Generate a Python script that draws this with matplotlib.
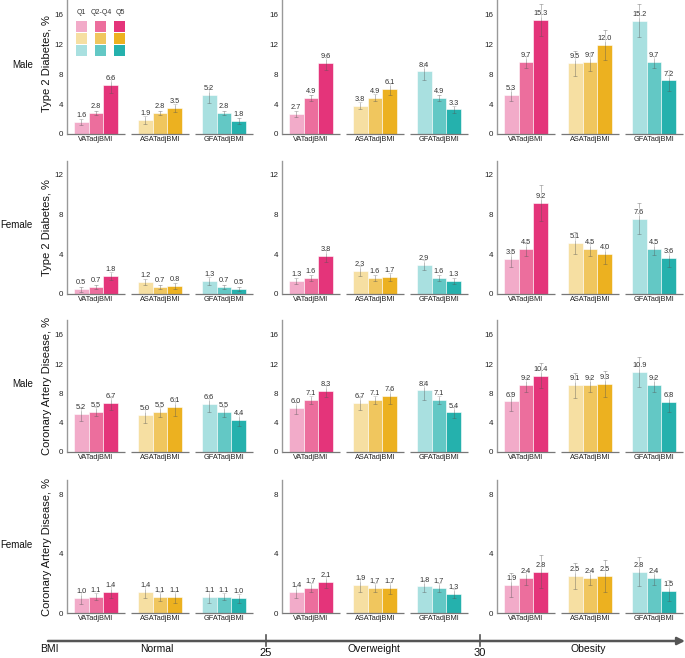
import numpy as np
import matplotlib.pyplot as plt
from matplotlib.patches import Rectangle

plt.rcParams['font.family'] = ['Liberation Sans', 'DejaVu Sans']

bmi_groups = ['Normal', 'Overweight', 'Obesity']
bmi_cuts = ['25', '30']
fat_traits = ['VATadjBMI', 'ASATadjBMI', 'GFATadjBMI']
quintiles = ['Q1', 'Q2-Q4', 'Q5']
sexes = ['Male', 'Female', 'Male', 'Female']
outcomes = ['Type 2 Diabetes, %', 'Type 2 Diabetes, %',
            'Coronary Artery Disease, %', 'Coronary Artery Disease, %']

# prevalence (%) : [bmi group][trait][Q1, Q2-Q4, Q5]
t2d_male = [
    [[1.6, 2.8, 6.6], [1.9, 2.8, 3.5], [5.2, 2.8, 1.8]],
    [[2.7, 4.9, 9.6], [3.8, 4.9, 6.1], [8.4, 4.9, 3.3]],
    [[5.3, 9.7, 15.3], [9.5, 9.7, 12.0], [15.2, 9.7, 7.2]],
]
t2d_male_err = [
    [[0.4, 0.3, 1.1], [0.5, 0.3, 0.5], [1.1, 0.3, 0.4]],
    [[0.4, 0.4, 1.0], [0.5, 0.5, 0.8], [1.2, 0.4, 0.5]],
    [[0.8, 0.8, 2.2], [1.7, 1.2, 2.0], [2.2, 0.8, 1.4]],
]
t2d_female = [
    [[0.5, 0.7, 1.8], [1.2, 0.7, 0.8], [1.3, 0.7, 0.5]],
    [[1.3, 1.6, 3.8], [2.3, 1.6, 1.7], [2.9, 1.6, 1.3]],
    [[3.5, 4.5, 9.2], [5.1, 4.5, 4.0], [7.6, 4.5, 3.6]],
]
t2d_female_err = [
    [[0.25, 0.2, 0.4], [0.3, 0.2, 0.3], [0.4, 0.2, 0.2]],
    [[0.3, 0.3, 0.6], [0.5, 0.3, 0.4], [0.5, 0.3, 0.3]],
    [[0.8, 0.7, 1.8], [1.1, 0.7, 1.0], [1.6, 0.6, 0.9]],
]
cad_male = [
    [[5.2, 5.5, 6.7], [5.0, 5.5, 6.1], [6.6, 5.5, 4.4]],
    [[6.0, 7.1, 8.3], [6.7, 7.1, 7.6], [8.4, 7.1, 5.4]],
    [[6.9, 9.2, 10.4], [9.1, 9.2, 9.3], [10.9, 9.2, 6.8]],
]
cad_male_err = [
    [[1.0, 0.6, 1.0], [1.1, 0.7, 1.2], [1.2, 0.7, 0.8]],
    [[0.8, 0.5, 0.8], [1.0, 0.6, 1.0], [1.3, 0.6, 0.7]],
    [[1.3, 1.0, 1.7], [1.7, 1.0, 1.8], [2.0, 1.0, 1.4]],
]
cad_female = [
    [[1.0, 1.1, 1.4], [1.4, 1.1, 1.1], [1.1, 1.1, 1.0]],
    [[1.4, 1.7, 2.1], [1.9, 1.7, 1.7], [1.8, 1.7, 1.3]],
    [[1.9, 2.4, 2.8], [2.5, 2.4, 2.5], [2.8, 2.4, 1.5]],
]
cad_female_err = [
    [[0.4, 0.25, 0.4], [0.4, 0.3, 0.4], [0.4, 0.25, 0.3]],
    [[0.4, 0.3, 0.4], [0.5, 0.3, 0.4], [0.4, 0.3, 0.3]],
    [[0.8, 0.5, 1.1], [0.9, 0.5, 1.1], [1.0, 0.5, 0.7]],
]

row_values = [t2d_male, t2d_female, cad_male, cad_female]
row_errors = [t2d_male_err, t2d_female_err, cad_male_err, cad_female_err]
row_ylim = [18, 13.4, 18, 9]
row_yticks = [[0, 4, 8, 12, 16], [0, 4, 8, 12], [0, 4, 8, 12, 16], [0, 4, 8]]

trait_colors = [['#F2ABC9', '#EC6E9D', '#E4347A'],
                ['#F6DFA2', '#F0C65E', '#ECB120'],
                ['#A9E0E0', '#63C8C5', '#25B1AD']]

# layout in pixels
W, H = 685, 658
col_left = [67, 282, 497]
panel_w = 186
row_top = [0, 161, 320, 480]
row_bottom = [134, 294, 452, 613]
gstep = 4.31

fig = plt.figure(figsize=(W / 100, H / 100), dpi=100)

for r in range(4):
    for c in range(3):
        ax = fig.add_axes([col_left[c] / W, 1 - row_bottom[r] / H,
                           panel_w / W, (row_bottom[r] - row_top[r]) / H])
        vals = row_values[r][c]
        errs = row_errors[r][c]
        for g in range(3):
            x = g * gstep + np.arange(3)
            ax.bar(x, vals[g], width=1.0, color=trait_colors[g],
                   edgecolor='white', linewidth=0.4, zorder=2)
            ax.errorbar(x, vals[g], yerr=errs[g], fmt='none', ecolor='#555555',
                        alpha=0.45, elinewidth=0.6, capsize=1.5, capthick=0.6, zorder=3)
            for xi, v in zip(x, vals[g]):
                ax.annotate(f'{v:.1f}', (xi, v), xytext=(0, 4.6), textcoords='offset points',
                            ha='center', va='center', fontsize=5.3, color='#333333', zorder=4,
                            bbox=dict(boxstyle='round,pad=0.05', fc='white', ec='none', alpha=0.45))
            ax.plot([g * gstep - 0.95, g * gstep + 2.95], [0, 0], color='#777777',
                    lw=0.9, clip_on=False, solid_capstyle='butt', zorder=5)
        ax.set_xlim(-0.95, 2 * gstep + 2.95)
        ax.set_ylim(0, row_ylim[r])
        ax.set_xticks([g * gstep + 1 for g in range(3)])
        ax.set_xticklabels(fat_traits, fontsize=5.3, color='#222222')
        ax.set_yticks(row_yticks[r])
        ax.set_yticklabels([str(t) for t in row_yticks[r]], fontsize=5.8, color='#222222')
        ax.tick_params(length=0, pad=2.5)
        ax.tick_params(axis='x', pad=1.5)
        for s in ['top', 'right', 'bottom']:
            ax.spines[s].set_visible(False)
        ax.spines['left'].set_color('#999999')
        ax.spines['left'].set_linewidth(1.0)
        ax.patch.set_alpha(0)

# overlay in pixel coordinates for labels, legend and the BMI arrow
ov = fig.add_axes([0, 0, 1, 1])
ov.set_xlim(0, W)
ov.set_ylim(H, 0)
ov.axis('off')
ov.patch.set_alpha(0)

for r in range(4):
    mid = (row_top[r] + row_bottom[r]) / 2
    ov.text(33, mid - 2, sexes[r], ha='right', va='center', fontsize=7, color='#111111')
    ov.text(47, mid - (3 if r == 0 else 0), outcomes[r], rotation=90, ha='center',
            va='center', fontsize=8, color='#111111')

# legend
leg_x = [76, 95.5, 114.5]
leg_y = [21, 33, 45]
for q in range(3):
    ov.text(leg_x[q] + 5.5, 13, quintiles[q], ha='center', va='center',
            fontsize=5, color='#333333')
    for g in range(3):
        ov.add_patch(Rectangle((leg_x[q], leg_y[g]), 11, 11,
                               color=trait_colors[g][q], lw=0))

# BMI axis
ov.annotate('', xy=(685, 641), xytext=(48, 641),
            arrowprops=dict(arrowstyle='-|>', color='#555555', lw=1.8,
                            mutation_scale=11, shrinkA=0, shrinkB=0))
for xt, lab in zip([266, 480], bmi_cuts):
    ov.plot([xt, xt], [635, 646], color='#555555', lw=1.2)
    ov.text(xt, 653, lab, ha='center', va='center', fontsize=8, color='#111111')
ov.text(49, 649, 'BMI', ha='center', va='center', fontsize=7.5, color='#111111')
for xc, lab in zip([157, 374, 588], bmi_groups):
    ov.text(xc, 649, lab, ha='center', va='center', fontsize=7.5, color='#111111')

fig.savefig('out.png', dpi=100)
